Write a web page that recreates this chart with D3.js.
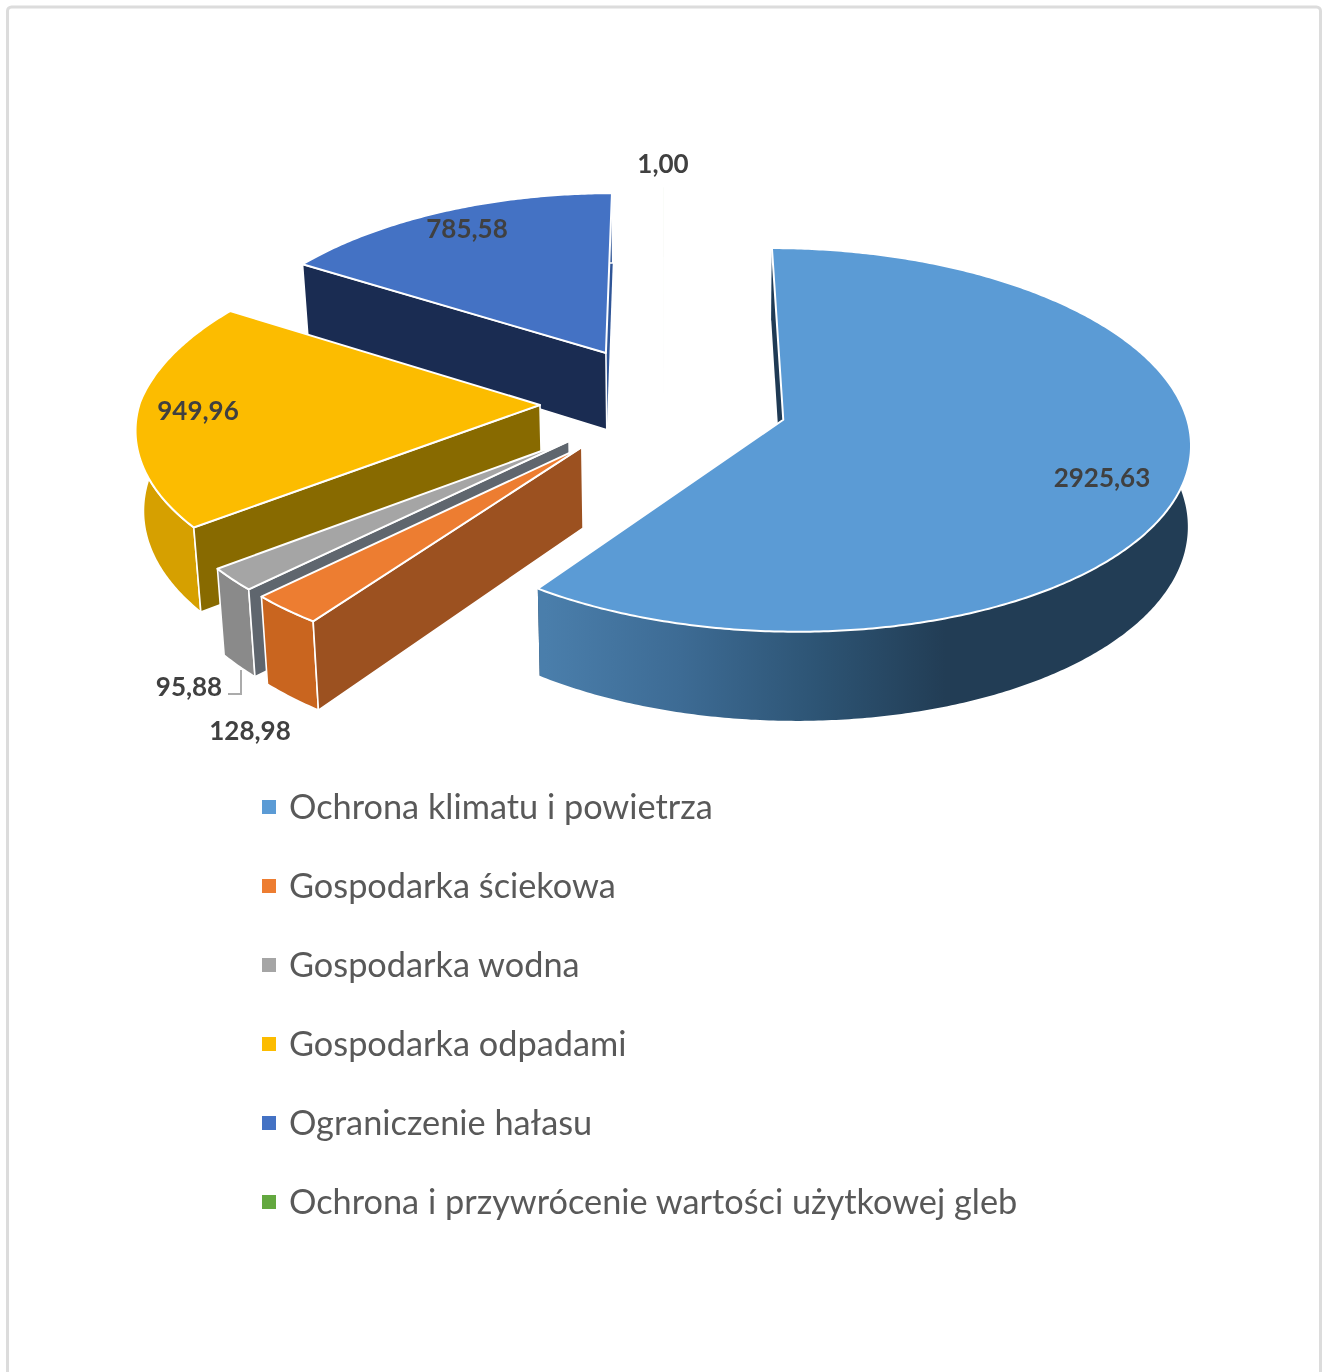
<!DOCTYPE html>
<html><head><meta charset="utf-8">
<style>html,body{margin:0;padding:0;background:#fff;overflow:hidden}svg{display:block;filter:blur(0.5px)}</style>
<script src="https://cdn.jsdelivr.net/npm/d3@7"></script>
</head><body><svg id="c" width="1325" height="1372"></svg>
<script>
const categories = ["Ochrona klimatu i powietrza","Gospodarka ściekowa","Gospodarka wodna","Gospodarka odpadami","Ograniczenie hałasu","Ochrona i przywrócenie wartości użytkowej gleb"];
const values = [2925.63,128.98,95.88,949.96,785.58,1.00];
const valueLabels = ["2925,63","128,98","95,88","949,96","785,58","1,00"];

const topColors  = ["#5b9bd5","#ed7d31","#a5a5a5","#fcbc00","#4472c4","#70ad47"];
const sideColors = ["url(#mainWall)","#c9651f","#8a8a8a","#d6a000","#2f5597","#43682b"];
const radialColors = ["#1f3a54","#9c5120","#5f666e","#886a00","#1a2c52","#43682b"];
const legendColors = ["#5b9bd5","#ed7d31","#a5a5a5","#fcbc00","#4472c4","#63a83f"];

// layout of the tilted pie
const W=1325,H=1372, explode=0.31, persp=0.104, perspBackLeft=0.13, depth=79, convergeL=0.985, convergeR=0.994;
const sx=d3.scaleLinear().domain([-1,1]).range([264,1064]);
const sy=d3.scaleLinear().domain([-1,1]).range([588,216]);
const project=(X,Y,low)=>{
  const k=1/(1+persp*Y);
  const kx=(X<0&&Y>0)?1/(1+perspBackLeft*Y):k;
  let x=sx(X*kx), y=sy(Y*k);
  if(low){ x=sx(0)+(x-sx(0))*(x<sx(0)?convergeL:convergeR); y+=depth*k; }
  return [x,y];
};
const pts=(d,a,r,low)=>{
  const mid=(d.startAngle+d.endAngle)/2;
  return project(explode*Math.sin(mid)+r*Math.sin(a), explode*Math.cos(mid)+r*Math.cos(a), low);
};
const arcAngles=d=>{
  const n=Math.max(2,Math.ceil((d.endAngle-d.startAngle)/0.01));
  return d3.range(n+1).map(i=>d.startAngle+(d.endAngle-d.startAngle)*i/n);
};
const poly=d3.line().curve(d3.curveLinearClosed);

const pie=d3.pie().sort(null).startAngle(0).endAngle(2*Math.PI);
const arcs=pie(values);

const svg=d3.select("#c");
svg.append("rect").attr("width",W).attr("height",H).attr("fill","#fff");
svg.append("rect").attr("x",7.5).attr("y",7).attr("width",1313).attr("height",1420).attr("rx",4)
   .attr("fill","#fff").attr("stroke","#dcdcdc").attr("stroke-width",3);

const defs=svg.append("defs");
const g0=defs.append("linearGradient").attr("id","mainWall").attr("gradientUnits","userSpaceOnUse")
  .attr("x1",545).attr("x2",1000).attr("y1",0).attr("y2",0);
[[0,"#4a7eab"],[0.3,"#3d6b94"],[0.6,"#2d5474"],[0.88,"#223d55"],[1,"#223d55"]]
  .forEach(s=>g0.append("stop").attr("offset",s[0]).attr("stop-color",s[1]));

// paint back to front
const order=[4,5,3,2,1,0];
const gPie=svg.append("g");
order.forEach(i=>{
  const d=arcs[i];
  const as=arcAngles(d);
  const g=gPie.append("g");
  // the 1,00 slice is a hairline that is practically invisible in the chart
  if(i===5) g.attr("opacity",0.04);
  const stroke=i===5?"none":"#fff";
  const sw=1.6;
  // radial wall at the end angle
  g.append("path").attr("d",poly([pts(d,d.endAngle,0),pts(d,d.endAngle,1),pts(d,d.endAngle,1,true),pts(d,d.endAngle,0,true)]))
   .attr("fill",sideColors[i]==="url(#mainWall)"?radialColors[i]:sideColors[i]).attr("stroke","none");
  // curved outer wall
  const topArc=as.map(a=>pts(d,a,1));
  const lowArc=as.map(a=>pts(d,a,1,true)).reverse();
  const wall=g.append("path").attr("d",poly(topArc.concat(lowArc))).attr("fill",sideColors[i]);
  if(i===0) wall.attr("stroke","none");
  else wall.attr("stroke",stroke).attr("stroke-width",sw).attr("stroke-linejoin","round");
  // radial wall at the start angle
  g.append("path").attr("d",poly([pts(d,d.startAngle,0),pts(d,d.startAngle,1),pts(d,d.startAngle,1,true),pts(d,d.startAngle,0,true)]))
   .attr("fill",radialColors[i]).attr("stroke",i===0?"none":stroke).attr("stroke-width",sw).attr("stroke-linejoin","round");
  // top face
  g.append("path").attr("d",poly([pts(d,d.startAngle,0)].concat(topArc)))
   .attr("fill",topColors[i]).attr("stroke",stroke).attr("stroke-width",sw+0.4).attr("stroke-linejoin","round");
});

// value labels
const labelPos=[[1102,477],[250,730],[189,686],[198,410],[467,228],[663,163]];
svg.append("g").selectAll("text").data(valueLabels).join("text")
  .attr("x",(d,i)=>labelPos[i][0]).attr("y",(d,i)=>labelPos[i][1])
  .attr("text-anchor","middle").attr("dominant-baseline","central")
  .attr("font-family","Lato, 'Open Sans', sans-serif").attr("font-weight",700).attr("font-size",26)
  .attr("fill","#404040").text(d=>d);
svg.append("path").attr("d","M241,670V694H228").attr("fill","none").attr("stroke","#ababab").attr("stroke-width",2);

// legend
const ly=d3.scalePoint().domain(categories).range([807,1202]);
const lg=svg.append("g").selectAll("g").data(categories).join("g")
  .attr("transform",d=>`translate(0,${ly(d)})`);
lg.append("rect").attr("x",262).attr("y",-7).attr("width",14).attr("height",14)
  .attr("fill",(d,i)=>legendColors[i]);
lg.append("text").attr("x",289).attr("y",-2).attr("dominant-baseline","central")
  .attr("font-family","Lato, 'Open Sans', sans-serif").attr("font-size",34.3)
  .attr("fill","#595959").text(d=>d);
</script></body></html>
